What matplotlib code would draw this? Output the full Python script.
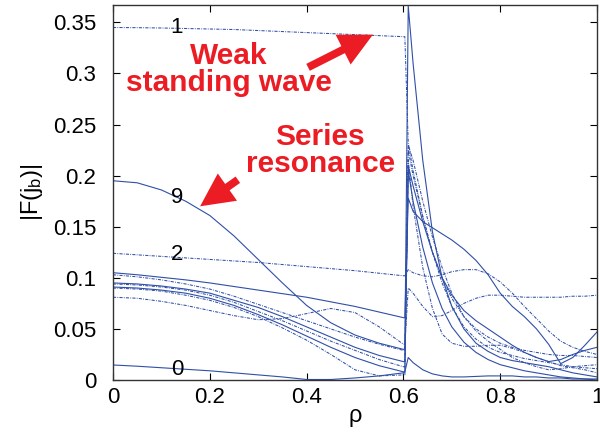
import matplotlib
matplotlib.use("Agg")
import matplotlib.pyplot as plt
from matplotlib.ticker import FuncFormatter, MultipleLocator

plt.rcParams['font.family'] = ['Liberation Sans', 'DejaVu Sans']
plt.rcParams['mathtext.fontset'] = 'custom'
plt.rcParams['mathtext.rm'] = 'Liberation Sans'
plt.rcParams['mathtext.it'] = 'Liberation Sans'

# sample positions (left region, jump, right region)
rho = [0, 0.05, 0.1, 0.15, 0.2, 0.25, 0.3, 0.35, 0.4, 0.45, 0.5, 0.55, 0.6, 0.603,
       0.61, 0.62, 0.64, 0.66, 0.68, 0.7, 0.725, 0.75, 0.775, 0.8, 0.825, 0.85,
       0.875, 0.9, 0.925, 0.95, 0.975, 1.0]

# |F(j_b)| for each mode
mode_1 = [0.345, 0.3448, 0.3445, 0.344, 0.3435, 0.343, 0.342, 0.341, 0.340, 0.339, 0.338, 0.337, 0.336, 0.336,
          0.232, 0.205, 0.16, 0.125, 0.095, 0.072, 0.052, 0.04, 0.032, 0.027, 0.024, 0.021,
          0.019, 0.017, 0.015, 0.013, 0.012, 0.011]
mode_9 = [0.195, 0.193, 0.186, 0.175, 0.161, 0.141, 0.118, 0.095, 0.073, 0.056, 0.044, 0.036, 0.030, 0.030,
          0.366, 0.31, 0.215, 0.145, 0.1, 0.072, 0.05, 0.036, 0.028, 0.022, 0.019, 0.017,
          0.015, 0.013, 0.010, 0.007, 0.005, 0.003]
mode_2 = [0.124, 0.1225, 0.121, 0.1195, 0.118, 0.1165, 0.115, 0.113, 0.111, 0.109, 0.107, 0.1045, 0.102, 0.102,
          0.108, 0.105, 0.102, 0.101, 0.103, 0.106, 0.108, 0.108, 0.104, 0.096, 0.085, 0.072,
          0.06, 0.048, 0.038, 0.032, 0.028, 0.025]
mode_a = [0.105, 0.103, 0.1005, 0.098, 0.095, 0.0915, 0.088, 0.0845, 0.081, 0.0765, 0.072, 0.0665, 0.061, 0.061,
          0.178, 0.165, 0.155, 0.149, 0.143, 0.137, 0.128, 0.117, 0.103, 0.085, 0.072, 0.062,
          0.05, 0.035, 0.016, 0.022, 0.034, 0.047]
mode_b = [0.103, 0.101, 0.098, 0.094, 0.089, 0.082, 0.074, 0.066, 0.058, 0.050, 0.042, 0.035, 0.029, 0.029,
          0.225, 0.2, 0.16, 0.125, 0.1, 0.08, 0.062, 0.05, 0.042, 0.036, 0.032, 0.029,
          0.027, 0.025, 0.024, 0.024, 0.023, 0.022]
mode_d = [0.095, 0.094, 0.092, 0.089, 0.085, 0.078, 0.071, 0.062, 0.052, 0.042, 0.032, 0.024, 0.018, 0.018,
          0.21, 0.19, 0.155, 0.125, 0.1, 0.083, 0.068, 0.058, 0.05, 0.042, 0.034, 0.027,
          0.022, 0.018, 0.02, 0.025, 0.029, 0.032]
mode_e = [0.094, 0.093, 0.091, 0.088, 0.083, 0.076, 0.067, 0.058, 0.048, 0.038, 0.029, 0.02, 0.013, 0.013,
          0.215, 0.17, 0.11, 0.07, 0.045, 0.036, 0.033, 0.033, 0.034, 0.034, 0.031, 0.027,
          0.022, 0.018, 0.014, 0.012, 0.010, 0.007]
mode_f = [0.091, 0.09, 0.088, 0.085, 0.08, 0.073, 0.064, 0.054, 0.043, 0.032, 0.022, 0.014, 0.008, 0.008,
          0.205, 0.175, 0.13, 0.095, 0.07, 0.052, 0.037, 0.027, 0.02, 0.015, 0.012, 0.009,
          0.007, 0.005, 0.003, 0.002, 0.001, 0.0]
mode_g = [0.090, 0.089, 0.087, 0.083, 0.078, 0.071, 0.062, 0.051, 0.039, 0.025, 0.01, 0.004, 0.005, 0.005,
          0.23, 0.215, 0.175, 0.14, 0.11, 0.085, 0.062, 0.048, 0.038, 0.03, 0.022, 0.017,
          0.013, 0.01, 0.011, 0.013, 0.014, 0.015]
mode_c = [0.081, 0.080, 0.077, 0.073, 0.068, 0.063, 0.059, 0.060, 0.065, 0.070, 0.066, 0.052, 0.035, 0.035,
          0.09, 0.085, 0.072, 0.062, 0.063, 0.068, 0.075, 0.08, 0.083, 0.083, 0.082, 0.081,
          0.081, 0.081, 0.081, 0.082, 0.082, 0.083]
mode_0 = [0.0147, 0.0135, 0.012, 0.0105, 0.009, 0.007, 0.005, 0.003, 0.0005, 0.0005, 0.002, 0.004, 0.007, 0.008,
          0.022, 0.017, 0.01, 0.006, 0.004, 0.003, 0.003, 0.0035, 0.004, 0.004, 0.004, 0.003,
          0.003, 0.002, 0.002, 0.001, 0.001, 0.001]

solid_modes = [mode_9, mode_a, mode_d, mode_f, mode_0]
dashdot_modes = [mode_1, mode_2, mode_b, mode_e, mode_g, mode_c]

mode_labels = ['1', '9', '2', '0']
mode_label_rho = [0.132, 0.132, 0.132, 0.132]
mode_label_val = [0.345, 0.179, 0.123, 0.010]

blue = '#2f4fa8'
red = '#ec1c24'

fig = plt.figure(figsize=(6.0, 4.44), dpi=100)
ax = fig.add_axes([113/600, 64/444, 484/600, 375/444])

for m in dashdot_modes:
    ax.plot(rho, m, color=blue, lw=0.75, linestyle=(0, (3.0, 1.2, 0.8, 1.2)))
for m in solid_modes:
    ax.plot(rho, m, color=blue, lw=0.8)

for t, x, y in zip(mode_labels, mode_label_rho, mode_label_val):
    ax.text(x, y, t, fontsize=16, ha='center', va='center', color='black')

ax.set_xlim(0, 1)
ax.set_ylim(0, 0.367)
ax.xaxis.set_major_locator(MultipleLocator(0.2))
ax.yaxis.set_major_locator(MultipleLocator(0.05))
fmt = FuncFormatter(lambda v, p: ('%g' % round(v, 4)))
ax.xaxis.set_major_formatter(fmt)
ax.yaxis.set_major_formatter(fmt)
ax.tick_params(direction='in', length=5, width=0.8, top=True, right=True,
               labelsize=16, colors='black')
ax.tick_params(axis='y', pad=12)
ax.tick_params(axis='x', pad=5)
for s in ax.spines.values():
    s.set_linewidth(1.0)
    s.set_color('#333333')

ax.set_xlabel('ρ', fontsize=17, labelpad=-2)
ax.set_ylabel(r'|F(j$_\mathrm{b}$)|', fontsize=17, labelpad=6)

ann_kw = dict(fontsize=21.5, fontweight='bold', color=red, ha='center', va='center',
              linespacing=0.95)
arrow_kw = dict(arrowstyle='simple,head_length=1.2,head_width=1.2,tail_width=0.28',
                color=red, lw=0, mutation_scale=20, shrinkA=0, shrinkB=0)
ax.annotate('', xy=(0.537, 0.338), xytext=(0.403, 0.306), arrowprops=arrow_kw)
ax.text(0.24, 0.304, 'Weak\nstanding wave', **ann_kw)
ax.annotate('', xy=(0.18, 0.170), xytext=(0.258, 0.196), arrowprops=arrow_kw)
ax.text(0.428, 0.225, 'Series\nresonance', **ann_kw)

fig.savefig('out.png', dpi=100)
